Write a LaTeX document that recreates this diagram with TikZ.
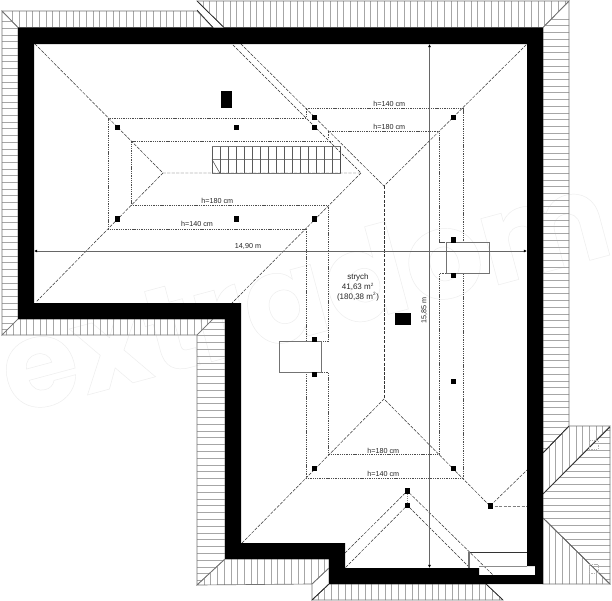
\documentclass[tikz,border=0pt]{standalone}
\usepackage{fontspec}
\usetikzlibrary{arrows.meta}
\setmainfont{Liberation Sans}
\newfontfamily\wmfont{Poppins}
\tikzset{
  px/.style={x=0.75pt,y=-0.75pt},
  hatch/.style={draw=black!35,line width=0.42pt},
  edge/.style={draw=black!55,line width=0.5pt},
  ridge/.style={draw=black!80,line width=0.36pt,dash pattern=on 2.4pt off 1pt},
  level/.style={draw=black!70,line width=0.36pt,dash pattern=on 1pt off 0.7pt},
  dimline/.style={draw=black!60,line width=0.55pt},
  lab/.style={font=\fontsize{5.4pt}{6.4pt}\selectfont,text=black!85,inner sep=0pt,align=center},
  post/.style={fill=black,draw=none},
}
\newcommand{\hatchV}[4]{\begin{scope}\clip #1;\foreach \q in {#2,#3,...,#4}{\draw[hatch] (\q,0)--(\q,601);}\end{scope}\draw[edge] #1;}
\newcommand{\hatchH}[4]{\begin{scope}\clip #1;\foreach \q in {#2,#3,...,#4}{\draw[hatch] (0,\q)--(612,\q);}\end{scope}\draw[edge] #1;}
\newcommand{\postAt}[2]{\fill[post] (#1-2.6,#2-2.6) rectangle (#1+2.6,#2+2.6);}
\begin{document}
\begin{tikzpicture}[px]
\useasboundingbox (0,0) rectangle (612,601);
\fill[white] (0,0) rectangle (612,601);
% watermark
\node[rotate=15,inner sep=0pt,anchor=base] (wm) at (315,334) {\special{pdf:code q 1 Tr 0.35 w 0.93 G}\wmfont\bfseries\fontsize{92pt}{92pt}\selectfont extradom\special{pdf:code Q 0 Tr}};
% eaves
\hatchV{(2,11)--(197,11)--(213,27.5)--(18,27.5)--cycle}{12.5}{19.2}{205}
\hatchV{(197,1)--(569,1)--(543,27.5)--(224,27.5)--cycle}{203}{209.7}{569}
\hatchH{(2,11)--(18,27.5)--(18,319)--(2,335)--cycle}{21.5}{28.2}{335}
\hatchH{(569,1)--(569,426)--(543,453)--(543,27.5)--cycle}{19}{25.7}{450}
\hatchV{(2,335)--(18,319)--(213,319)--(197,335)--cycle}{6.5}{13.2}{213}
\hatchH{(197,335)--(213,319)--(225,319)--(225,559)--(197,585)--cycle}{322}{328.8}{585}
\hatchV{(197,585)--(225,559)--(329,559)--(329,568)--(312,584)--cycle}{204}{210.7}{329}
\hatchV{(312,600)--(329,584)--(486,584)--(503,600)--cycle}{318}{324.7}{503}
\draw[edge] (312,584)--(312,600)--(329,584)--(329,568)--cycle;
\hatchV{(543,453)--(569,426)--(610,426)--(543,494)--cycle}{549}{555.7}{610}
\hatchH{(543,494)--(610,427)--(610,584)--(543,518)--cycle}{430}{436.8}{584}
\hatchV{(543,518)--(610,584)--(543,584)--cycle}{549}{555.7}{610}
\draw[edge,draw=black!85] (197,10)--(213,27.5) (197,1)--(224,27.5);
\draw[edge,draw=black!85] (543,453)--(569,426) (543,494)--(610,427) (312,600)--(329,584);
\draw[edge,draw=black!60] (543,518)--(610,584);
\draw[edge,dash pattern=on 1pt off 0.7pt,draw=black!30] (589,440) rectangle (598,449) (589,564) rectangle (598,573);
% walls
\fill[black,even odd rule]
 (18,27.5)--(543,27.5)--(543,584)--(329,584)--(329,559)--(225,559)--(225,319)--(18,319)--cycle
 (34,44)--(527,44)--(527,566)--(535,566)--(535,575)--(479,575)--(479,568)--(345,568)--(345,543)--(241,543)--(241,303)--(34,303)--cycle;
\draw[edge,draw=black!85] (486,584)--(503,600);
% ridges and hips
\draw[ridge] (35,44)--(163,173)--(361,173)--(232,44);
\draw[ridge] (241,44)--(384,186)--(527,44);
\draw[ridge] (361,173)--(232,303);
\draw[ridge] (163,173)--(36,302);
\draw[ridge] (384,186)--(384,399);
\draw[ridge] (242,543)--(384,399)--(490,506)--(527,470);
\draw[ridge,draw=black!50] (490,506)--(527,506);
% levels
\draw[level] (306,118)--(108,118)--(108,229)--(306,229);
\draw[level] (333,141.5)--(131,141.5)--(131,205)--(328,205);
\draw[level] (306,109)--(306,118);
\draw[level] (306,108.5)--(463,108.5)--(463,242);
\draw[level] (328,138)--(328,131)--(439.5,131)--(439.5,242)--(446,242);
\draw[level] (446,273.5)--(439.5,273.5)--(439.5,454)--(328,454)--(328,372)--(321,372);
\draw[level] (463,273.5)--(463,478)--(306,478)--(306,372);
\draw[level] (306,229)--(306,341.5);
\draw[level] (328,205)--(328,341.5)--(321,341.5);
% bays
\draw[edge] (446,242) rectangle (489,273.5);
\draw[edge] (279,341.5) rectangle (321,372);
% gable
\draw[ridge] (345,553)--(407.3,491)--(493,575);
\draw[ridge] (345.5,567.5)--(407.3,505.3)--(469.5,567.5);
\draw[level,draw=black!45] (407.3,491)--(407.3,505);
\draw[draw=black!80,line width=0.6pt] (469,552)--(527,552);
\draw[draw=black!55,line width=0.8pt] (469,552)--(469,568);
\draw[draw=black!45,line width=0.6pt] (479,566)--(527,566);
% stairs
\draw[draw=black!55,line width=0.8pt] (211.7,146.5)--(340.7,146.5);
\draw[draw=black!55,line width=1.1pt] (211.7,173.3)--(340.7,173.3);
\draw[draw=black!50,line width=0.45pt] (211.7,159.5)--(340.7,159.5);
\foreach \q in {212,220,...,340}{\draw[draw=black!65,line width=0.5pt] (\q,146.5)--(\q,173.3);}
\draw[draw=black!70,line width=0.5pt] (340.7,146.5)--(340.7,173.3);
\draw[draw=black!70,line width=0.4pt] (212,159.5)--(220,173.3);
% chimneys
\fill[black] (220.5,91)--(232,91)--(232,108.3)--(220.5,108.3)--cycle;
\fill[black] (395,313.3)--(411.3,313.3)--(411.3,325.3)--(395,325.3)--cycle;
% posts
\postAt{117.7}{127.3}\postAt{236.5}{127.3}\postAt{314.3}{127.3}\postAt{314.3}{117.3}
\postAt{453.5}{117.3}\postAt{117.7}{219}\postAt{236.5}{219}\postAt{314.3}{219}
\postAt{453.5}{240}\postAt{453.5}{275.3}\postAt{314.3}{339.5}\postAt{314.3}{374.7}
\postAt{453.5}{381.5}\postAt{453.5}{468.5}\postAt{314.3}{468.5}\postAt{490.5}{506}
\postAt{407.3}{491}\postAt{407.3}{505.3}
% dimensions
\coordinate (dl) at (34,251);\coordinate (dr) at (527,251);
\coordinate (dt) at (429.5,44);\coordinate (db) at (429.5,568);
\draw[dimline,{Latex[length=2.4pt,width=2.4pt,black]}-{Latex[length=2.4pt,width=2.4pt,black]}] (dl)--(dr);
\draw[dimline,{Latex[length=2.4pt,width=2.4pt,black]}-{Latex[length=2.4pt,width=2.4pt,black]}] (dt)--(db);
% labels
\node[lab] (d1) at (248,246.2) {14,90 m};
\node[lab,rotate=90] (d2) at (424.3,310.5) {15,85 m};
\node[lab] (h1) at (197,224.3) {h=140 cm};
\node[lab] (h2) at (217.3,201) {h=180 cm};
\node[lab] (h3) at (389.3,104.3) {h=140 cm};
\node[lab] (h4) at (389.3,127) {h=180 cm};
\node[lab] (h5) at (383.3,451) {h=180 cm};
\node[lab] (h6) at (383.3,473.7) {h=140 cm};
\node[lab,font=\fontsize{6pt}{7.2pt}\selectfont] (room) at (358,287.5) {strych\\41,63 m\textsuperscript{\fontsize{3.5pt}{3.5pt}\selectfont 2}\\(180,38 m\textsuperscript{\fontsize{3.5pt}{3.5pt}\selectfont 2})};
\end{tikzpicture}
\end{document}
